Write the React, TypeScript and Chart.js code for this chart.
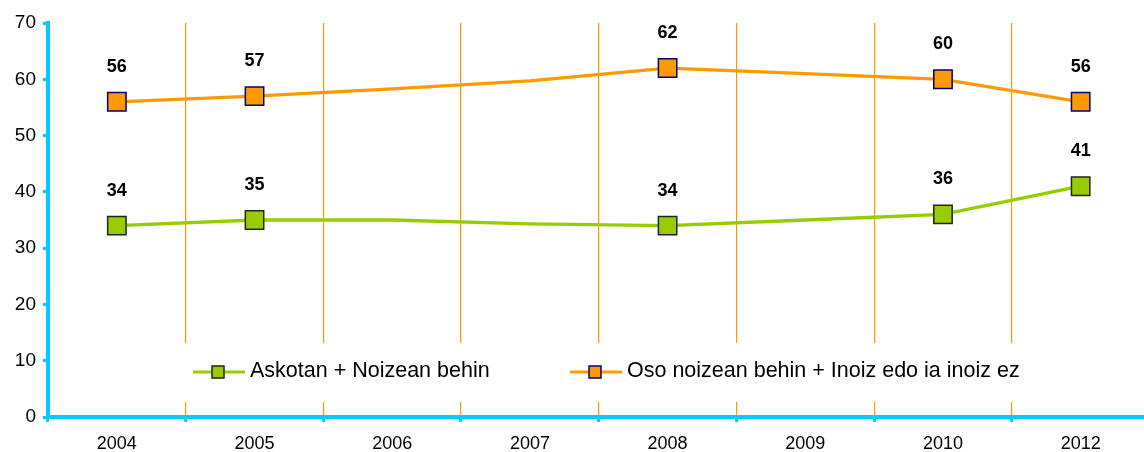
import React, { useEffect, useRef } from "react";
import { Chart, registerables } from "chart.js";

Chart.register(...registerables);

const years = ["2004", "2005", "2006", "2007", "2008", "2009", "2010", "2012"];
const frequentValues = [34, 35, 35, 34.3, 34, 35, 36, 41];
const rareValues = [56, 57, 58.3, 59.7, 62, 61, 60, 56];
const markedYears = ["2004", "2005", "2008", "2010", "2012"];
const seriesNames = ["Askotan + Noizean behin", "Oso noizean behin + Inoiz edo ia inoiz ez"];
const yMin = 0;
const yMax = 70;
const yStep = 10;

const GREEN = "#99CC00";
const ORANGE = "#FF9900";
const CYAN = "#00CCFF";
const FONT = "'Liberation Sans', Arial, Helvetica, sans-serif";

const W = 1164;
const H = 452;

export default function App() {
  const ref = useRef<HTMLCanvasElement | null>(null);

  useEffect(() => {
    const canvas = ref.current;
    if (!canvas) return;
    const radii = years.map((y) => (markedYears.includes(y) ? 13 : 0));

    const overlay = {
      id: "overlay",
      afterDraw(chart: any) {
        const ctx = chart.ctx;
        ctx.save();
        // data labels
        ctx.font = `bold 18px ${FONT}`;
        ctx.fillStyle = "#000";
        ctx.textAlign = "center";
        ctx.textBaseline = "middle";
        chart.data.datasets.forEach((ds: any, di: number) => {
          const meta = chart.getDatasetMeta(di);
          meta.data.forEach((pt: any, i: number) => {
            if (!markedYears.includes(years[i])) return;
            ctx.fillText(String(Math.round(ds.data[i])), pt.x, pt.y - 35);
          });
        });
        // legend box
        ctx.fillStyle = "#fff";
        ctx.fillRect(178, 343, 860, 59);
        const items = [
          { x: 193, color: GREEN, border: "#222", name: seriesNames[0] },
          { x: 570, color: ORANGE, border: "#000080", name: seriesNames[1] },
        ];
        const ly = 372;
        items.forEach((it) => {
          ctx.strokeStyle = it.color;
          ctx.lineWidth = 3;
          ctx.beginPath();
          ctx.moveTo(it.x, ly);
          ctx.lineTo(it.x + 52, ly);
          ctx.stroke();
          const s = 12;
          const cx = it.x + 25;
          ctx.fillStyle = it.color;
          ctx.fillRect(cx - s / 2, ly - s / 2, s, s);
          ctx.strokeStyle = it.border;
          ctx.lineWidth = 1.5;
          ctx.strokeRect(cx - s / 2, ly - s / 2, s, s);
          ctx.fillStyle = "#000";
          ctx.font = `21.5px ${FONT}`;
          ctx.textAlign = "left";
          ctx.textBaseline = "middle";
          ctx.fillText(it.name, it.x + 57, ly - 1);
        });
        ctx.restore();
      },
    };

    const chart = new Chart(canvas, {
      type: "line",
      data: {
        labels: years,
        datasets: [
          {
            label: seriesNames[0],
            data: frequentValues,
            borderColor: GREEN,
            backgroundColor: GREEN,
            borderWidth: 3.3,
            tension: 0,
            pointStyle: "rect",
            pointRadius: radii,
            pointHoverRadius: radii,
            pointBackgroundColor: GREEN,
            pointBorderColor: "#222",
            pointBorderWidth: 1.5,
          },
          {
            label: seriesNames[1],
            data: rareValues,
            borderColor: ORANGE,
            backgroundColor: ORANGE,
            borderWidth: 3.3,
            tension: 0,
            pointStyle: "rect",
            pointRadius: radii,
            pointHoverRadius: radii,
            pointBackgroundColor: ORANGE,
            pointBorderColor: "#000080",
            pointBorderWidth: 1.5,
          },
        ],
      },
      options: {
        responsive: false,
        animation: false,
        events: [],
        layout: { padding: { top: 23, left: 0, right: 0, bottom: 0 } },
        plugins: {
          legend: { display: false },
          tooltip: { enabled: false },
        },
        scales: {
          x: {
            type: "category",
            offset: true,
            grid: {
              offset: true,
              color: () => ORANGE,
              lineWidth: () => 1.2,
              tickColor: () => CYAN,
              tickWidth: () => 3,
              tickLength: 5,
            },
            border: { color: CYAN, width: 4 },
            ticks: {
              color: "#000",
              font: { family: FONT, size: 18 },
              padding: 11,
              maxRotation: 0,
            },
            afterFit(scale: any) {
              scale.height = 35;
            },
          },
          y: {
            min: yMin,
            max: yMax,
            grid: {
              drawOnChartArea: false,
              tickColor: CYAN,
              tickWidth: 3,
              tickLength: 5,
            },
            border: { color: CYAN, width: 4 },
            ticks: {
              stepSize: yStep,
              color: "#000",
              font: { family: FONT, size: 19 },
              padding: 7,
            },
            afterFit(scale: any) {
              scale.width = 48;
            },
          },
        },
      },
      plugins: [overlay],
    } as any);

    return () => chart.destroy();
  }, []);

  return (
    <div
      style={{
        position: "absolute",
        left: 0,
        top: 0,
        width: 1144,
        height: H,
        overflow: "hidden",
        background: "#fff",
      }}
    >
      <canvas ref={ref} width={W} height={H} style={{ width: W, height: H, display: "block" }} />
    </div>
  );
}
